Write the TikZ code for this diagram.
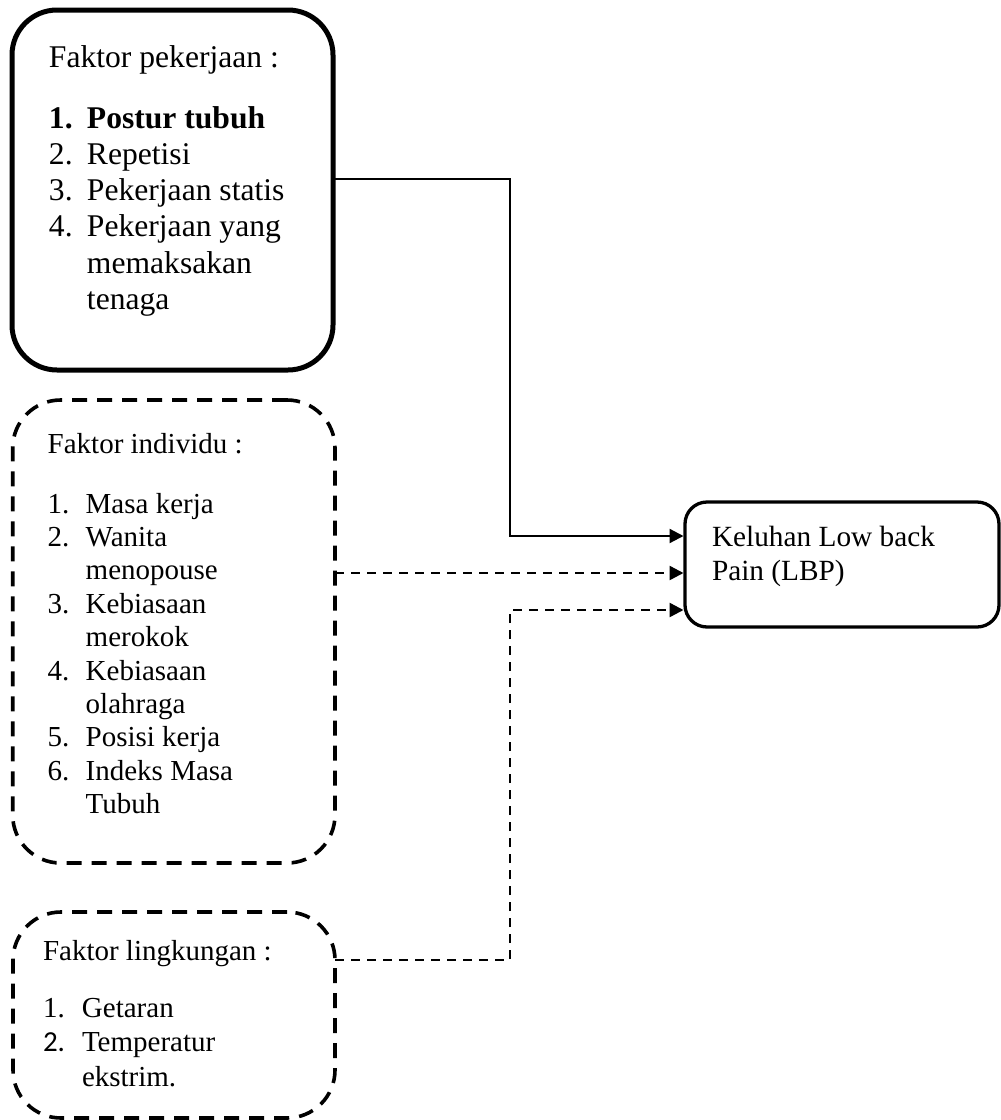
\documentclass[tikz,border=0pt]{standalone}
\usepackage{fontspec}
\setmainfont{Liberation Serif}
\newfontfamily\calfont{Carlito}
\usetikzlibrary{arrows.meta}
\newlength\itw
\setlength\itw{38pt}
\newcommand\myitem[2]{\makebox[\itw][l]{#1}#2}
\newcommand\mycont[1]{\hspace*{\itw}#1}
\begin{document}
\begin{tikzpicture}[x=1pt,y=-1pt,
  box/.style={draw, black, inner sep=0pt, outer sep=0pt, anchor=north west},
  solidbox/.style={box, line width=5pt, rounded corners=45pt},
  dashbox/.style={box, line width=3.6pt, rounded corners=48pt, dash pattern=on 15pt off 10pt},
  lbpbox/.style={box, line width=3.3pt, rounded corners=22pt},
  conn/.style={line width=2.2pt, -{Triangle[length=14pt,width=14pt]}, shorten >=1.5pt},
  dconn/.style={conn, line width=2.5pt, dash pattern=on 9pt off 7pt}]
\useasboundingbox (0,0) rectangle (1001,1120);

\node[solidbox] (kerja) at (12,10) {\parbox[c][360pt][t]{321pt}{%
  \fontsize{31.6}{36.3}\selectfont\setlength{\leftskip}{37pt}\setlength\itw{38pt}%
  \rule{0pt}{57pt}Faktor pekerjaan :\\[24.7pt]
  \textbf{\myitem{1.}{Postur tubuh}}\\
  \myitem{2.}{Repetisi}\\
  \myitem{3.}{Pekerjaan statis}\\
  \myitem{4.}{Pekerjaan yang}\\
  \mycont{memaksakan}\\
  \mycont{tenaga}}};

\node[dashbox] (individu) at (12.7,400) {\parbox[c][463pt][t]{322.3pt}{%
  \fontsize{29}{33.4}\selectfont\setlength{\leftskip}{35pt}\setlength\itw{38pt}%
  \rule{0pt}{53pt}Faktor individu :\\[26.6pt]
  \myitem{1.}{Masa kerja}\\
  \myitem{2.}{Wanita}\\
  \mycont{menopouse}\\
  \myitem{3.}{Kebiasaan}\\
  \mycont{merokok}\\
  \myitem{4.}{Kebiasaan}\\
  \mycont{olahraga}\\
  \myitem{5.}{Posisi kerja}\\
  \myitem{6.}{Indeks Masa}\\
  \mycont{Tubuh}}};

\node[dashbox] (lingkungan) at (13,912) {\parbox[c][206pt][t]{322pt}{%
  \fontsize{29}{34.5}\selectfont\setlength{\leftskip}{30pt}\setlength\itw{39pt}%
  \rule{0pt}{48pt}Faktor lingkungan :\\[22.5pt]
  \myitem{1.}{Getaran}\\
  \myitem{{\calfont 2.}}{Temperatur}\\
  \mycont{ekstrim.}}};

\node[lbpbox] (lbp) at (685,502) {\parbox[c][125pt][t]{314pt}{%
  \fontsize{29.3}{34}\selectfont\setlength{\leftskip}{27pt}%
  \rule{0pt}{44pt}Keluhan Low back\\
  Pain (LBP)}};

\coordinate (b1) at (510,179);
\coordinate (b2) at (510,536);
\coordinate (b3) at (510,960);
\coordinate (b4) at (510,610);

\draw[conn] (kerja.east |- b1) -- (b1) -- (b2) -- (lbp.west |- b2);
\draw[dconn] (individu.east |- 0,573) -- (lbp.west |- 0,573);
\draw[dconn] (lingkungan.east |- b3) -- (b3) -- (b4) -- (lbp.west |- b4);
\end{tikzpicture}
\end{document}
